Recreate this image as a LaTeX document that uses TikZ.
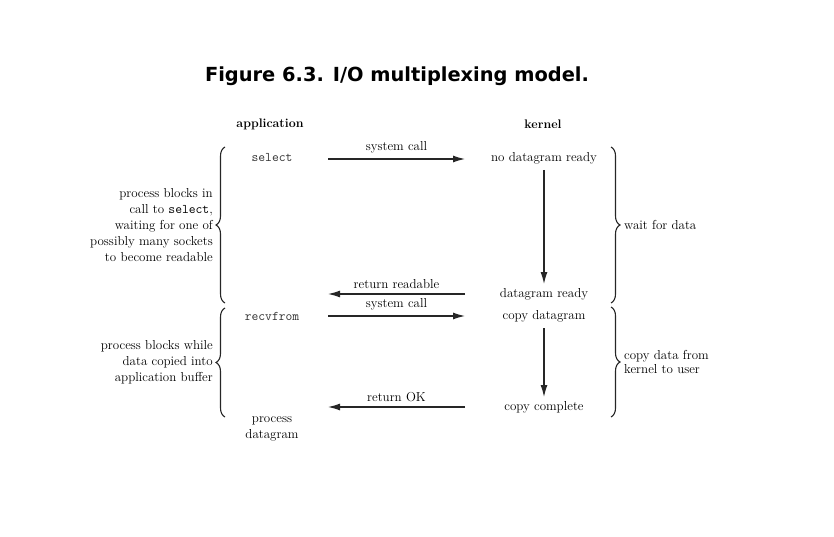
\documentclass[tikz,border=0pt]{standalone}
\usepackage{fontspec}
\newfontfamily\titlefont{DejaVu Sans}
\usetikzlibrary{arrows.meta,decorations.pathreplacing}
\begin{document}
\begin{tikzpicture}[x=1pt,y=-1pt,
  txt/.style={font=\fontsize{13}{16}\selectfont, inner sep=0pt},
  lbl/.style={font=\fontsize{13}{16}\selectfont, inner sep=0pt},
  hdr/.style={font=\fontsize{12.4}{14}\selectfont\bfseries, inner sep=0pt},
  code/.style={font=\fontsize{13.2}{14}\selectfont\ttfamily, inner sep=0pt, text=black!80},
  arr/.style={-{Latex[length=12pt,width=7pt]}, line width=1.2pt, draw=black!85},
  brc/.style={decorate, decoration={brace, amplitude=9pt}, line width=1.1pt, draw=black!85},
]
\useasboundingbox (0,0) rectangle (834,537);
\node[font=\titlefont\bfseries\fontsize{19.4}{22}\selectfont, inner sep=0pt] (title) at (397,76) {Figure 6.3. I/O multiplexing model.};
\node[hdr] (app) at (270,124) {application};
\node[hdr] (ker) at (543,124) {kernel};
% application side
\node[code] (sel) at (272,158) {select};
\node[code] (recv) at (272,316) {recvfrom};
\node[txt, align=center] (proc) at (272,429) {process\\datagram};
% kernel side
\node[txt] (nodr) at (544,158) {no datagram ready};
\node[txt] (dr) at (544,294) {datagram ready};
\node[txt] (cpd) at (544,316) {copy datagram};
\node[txt] (cpc) at (544,407) {copy complete};
% arrow end points
\coordinate (a1l) at (328,159); \coordinate (a1r) at (465,159);
\coordinate (a2l) at (328,294); \coordinate (a2r) at (465,294);
\coordinate (a3l) at (328,316); \coordinate (a3r) at (465,316);
\coordinate (a4l) at (328,407); \coordinate (a4r) at (465,407);
\draw[arr] (a1l) -- node[lbl, above=5pt] (l1) {system call} (a1r);
\draw[arr] (a2r) -- node[lbl, above=5pt] (l2) {return readable} (a2l);
\draw[arr] (a3l) -- node[lbl, above=5pt] (l3) {system call} (a3r);
\draw[arr] (a4r) -- node[lbl, above=5pt] (l4) {return OK} (a4l);
% vertical arrows
\coordinate (v1t) at (544,170); \coordinate (v1b) at (544,284);
\coordinate (v2t) at (544,328); \coordinate (v2b) at (544,397);
\draw[arr] (v1t) -- (v1b);
\draw[arr] (v2t) -- (v2b);
% braces
\coordinate (lb1t) at (225,147); \coordinate (lb1b) at (225,303);
\coordinate (lb2t) at (225,308); \coordinate (lb2b) at (225,417);
\coordinate (rb1t) at (611,147); \coordinate (rb1b) at (611,303);
\coordinate (rb2t) at (611,307); \coordinate (rb2b) at (611,417);
\draw[brc] (lb1b) -- (lb1t);
\draw[brc] (lb2b) -- (lb2t);
\draw[brc] (rb1t) -- (rb1b);
\draw[brc] (rb2t) -- (rb2b);
\node[txt, align=right, anchor=east] (bl1) at (213,225) {process blocks in\\call to {\ttfamily\fontsize{13.2}{16}\selectfont select},\\waiting for one of\\possibly many sockets\\to become readable};
\node[txt, align=right, anchor=east] (bl2) at (213,362) {process blocks while\\data copied into\\application buffer};
\node[txt, align=left, anchor=west] (br1) at (624,225) {wait for data};
\node[txt, align=left, anchor=west, font=\fontsize{13}{14.5}\selectfont] (br2) at (624,362) {copy data from\\kernel to user};
\end{tikzpicture}
\end{document}
